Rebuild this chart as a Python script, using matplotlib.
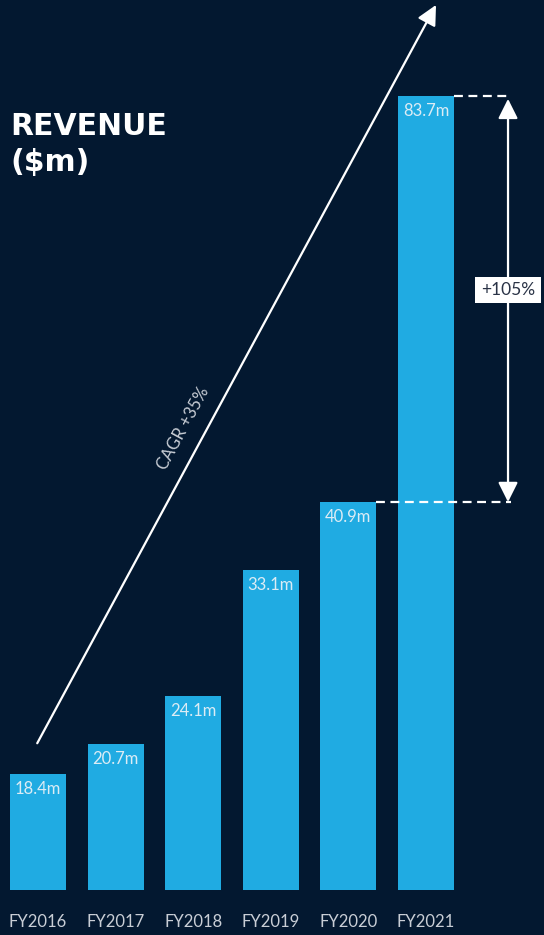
import matplotlib.pyplot as plt
from matplotlib.patches import Rectangle

# data
years = ["FY2016", "FY2017", "FY2018", "FY2019", "FY2020", "FY2021"]
revenue = [18.4, 20.7, 24.1, 33.1, 40.9, 83.7]
# the reference does not draw the small bars to scale: heights as drawn
bar_heights = [12.2, 15.4, 20.45, 33.7, 40.9, 83.7]
value_labels = ["18.4m", "20.7m", "24.1m", "33.1m", "40.9m", "83.7m"]
cagr_label = "CAGR +35%"
growth_label = "+105%"

bg = "#031830"
bar_color = "#20abe2"
label_color = "#dcecf5"
tick_color = "#c9ced6"

W, H = 544, 935
fig = plt.figure(figsize=(W / 100, H / 100), dpi=100, facecolor=bg)
# axes bottom at the bar baseline (890 px), up to the top of the figure
ax = fig.add_axes([0, 45 / H, 1, 890 / H])
ax.set_facecolor(bg)
px_per_unit = 9.486
ax.set_ylim(0, 890 / px_per_unit)
step = 77.6
ax.set_xlim(-38 / step, (W - 38) / step)
for s in ax.spines.values():
    s.set_visible(False)

x = list(range(len(years)))
bars = ax.bar(x, bar_heights, width=0.72, color=bar_color, zorder=2)

for xi, h, lab in zip(x, bar_heights, value_labels):
    ax.annotate(lab, (xi, h), xytext=(0, -5), textcoords="offset points",
                ha="center", va="top", color=label_color, fontsize=12,
                family="Lato", zorder=3)

ax.set_xticks(x, years)
ax.tick_params(axis="x", length=0, pad=17, labelsize=12, labelcolor=tick_color)
ax.set_yticks([])
for t in ax.get_xticklabels():
    t.set_family("Lato")

# CAGR arrow
ax.annotate("", xy=(5.129, 93.3), xytext=(-0.01, 15.47),
            arrowprops=dict(arrowstyle="-|>,head_length=0.8,head_width=0.4",
                            mutation_scale=15, color="white", lw=1.6,
                            shrinkA=0, shrinkB=0),
            annotation_clip=False, zorder=4)
ax.text(1.869, 48.7, cagr_label, rotation=61.6, rotation_mode="anchor",
        ha="center", va="center", color=tick_color, fontsize=12,
        family="Lato")

# +105% comparison between FY2020 and FY2021
xr = 6.057
ax.plot([5.36, 6.095], [revenue[5], revenue[5]], color="white", lw=1.6,
        dashes=(4, 2.5), zorder=4)
ax.plot([4.36, 6.095], [revenue[4], revenue[4]], color="white", lw=1.6,
        dashes=(4, 2.5), zorder=4)
ax.annotate("", xy=(xr, revenue[5] - 0.3), xytext=(xr, revenue[4]),
            arrowprops=dict(arrowstyle="<|-|>,head_length=0.8,head_width=0.4",
                            mutation_scale=15, color="white", lw=1.6,
                            shrinkA=0, shrinkB=0),
            zorder=4)
ax.add_patch(Rectangle((5.631, 61.88), 0.851, 2.74, facecolor="white",
                       edgecolor="none", zorder=5))
ax.text(xr, 63.25, growth_label, ha="center", va="center", color="#2a3346",
        fontsize=12.5, family="Lato", zorder=6)

fig.text(10 / W, 1 - 112 / H, "REVENUE\n($m)", ha="left", va="top",
         color="white", fontsize=21.5, fontweight="bold", linespacing=1.3)

fig.savefig("out.png", dpi=100, facecolor=bg)
